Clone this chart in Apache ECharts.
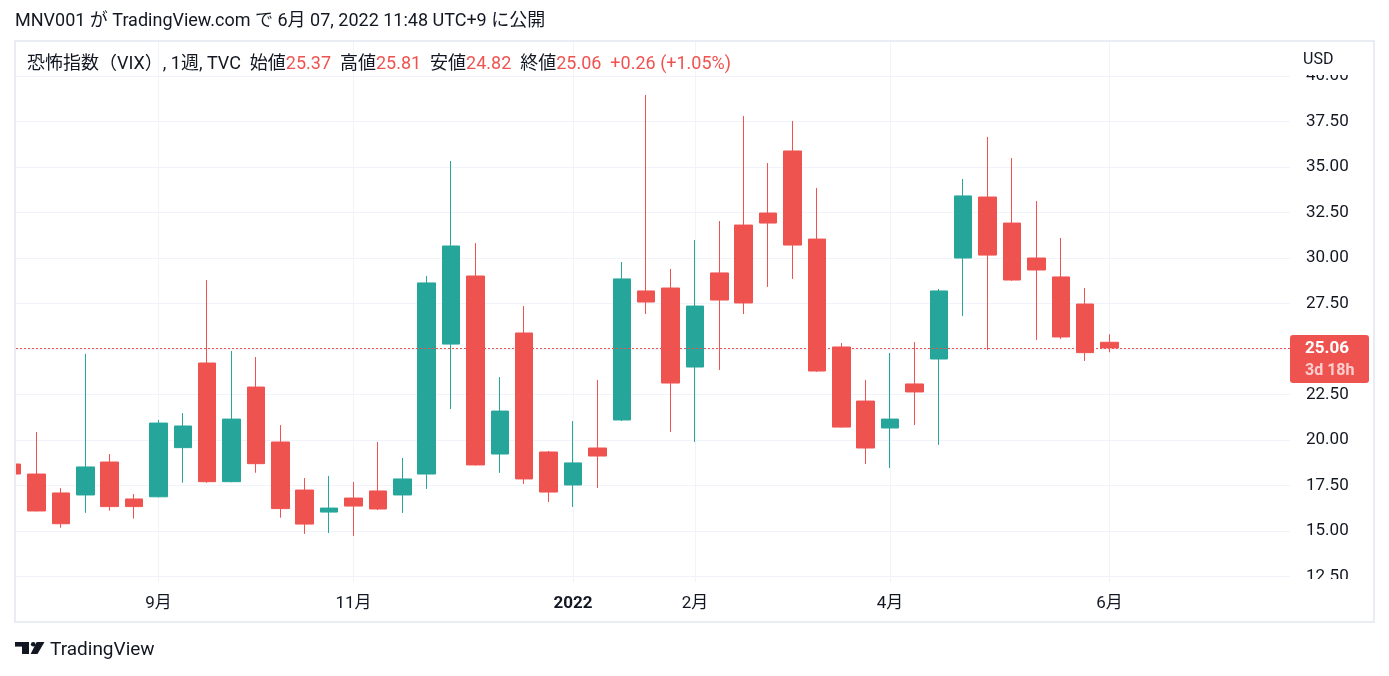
<!DOCTYPE html>
<html><head><meta charset="utf-8">
<script src="https://cdn.jsdelivr.net/npm/echarts@6.0.0/dist/echarts.min.js"></script>
<style>html,body{margin:0;padding:0;background:#fff}#c{width:1389px;height:676px}</style>
</head><body><div id="c"></div>
<script>
// Weekly candles, 恐怖指数（VIX）
const weeks = ['2021-07-26','2021-08-02','2021-08-09','2021-08-16','2021-08-23','2021-08-30','2021-09-06','2021-09-13','2021-09-20','2021-09-27','2021-10-04','2021-10-11','2021-10-18','2021-10-25','2021-11-01','2021-11-08','2021-11-15','2021-11-22','2021-11-29','2021-12-06','2021-12-13','2021-12-20','2021-12-27','2022-01-03','2022-01-10','2022-01-17','2022-01-24','2022-01-31','2022-02-07','2022-02-14','2022-02-21','2022-02-28','2022-03-07','2022-03-14','2022-03-21','2022-03-28','2022-04-04','2022-04-11','2022-04-18','2022-04-25','2022-05-02','2022-05-09','2022-05-16','2022-05-23','2022-05-30','2022-06-06'];
const opens  = [18.68,18.13,17.09,16.98,18.79,16.76,16.88,19.58,24.23,17.71,22.91,19.89,17.25,16.04,16.81,17.20,16.98,18.13,25.27,29.01,19.23,25.88,19.34,17.53,19.56,21.10,28.19,28.35,24.01,29.18,31.81,32.47,35.88,31.04,25.11,22.14,20.66,23.08,24.45,30.00,33.35,31.92,30.00,28.96,27.47,25.37];
const closes = [18.13,16.10,15.40,18.52,16.34,16.34,20.93,20.77,17.71,21.15,18.70,16.23,15.38,16.26,16.37,16.21,17.86,28.63,30.66,18.63,21.59,17.86,17.14,18.74,19.12,28.85,27.58,23.13,27.36,27.69,27.53,31.92,30.71,23.79,20.71,19.56,21.15,22.64,28.19,33.41,30.16,28.79,29.34,25.66,24.80,25.06];
const lows   = [17.95,16.08,15.18,16.00,16.12,15.68,16.85,17.65,17.65,17.68,18.20,15.73,14.84,14.89,14.73,16.15,15.99,17.31,21.70,18.60,18.19,17.58,16.59,16.32,17.36,21.05,26.92,20.44,19.89,23.85,26.92,28.41,28.85,23.75,20.68,18.68,18.46,20.82,19.73,26.81,24.95,28.75,25.49,25.55,24.34,24.82];
const highs  = [18.90,20.44,17.36,24.73,19.23,17.03,21.10,21.48,28.79,24.89,24.56,20.82,17.91,18.02,17.69,19.89,19.01,29.01,35.33,30.82,23.46,27.36,19.40,21.04,23.30,29.78,38.96,29.40,30.99,32.03,37.80,35.22,37.53,33.85,25.33,23.30,24.78,25.38,28.30,34.34,36.65,35.49,33.13,31.10,28.35,25.81];
const monthTickIdx = [6,14,23,28,36,45];
const monthTickLabels = ['9月','11月','2022','2月','4月','6月'];
const priceTicks = [12.5,15,17.5,20,22.5,25,27.5,30,32.5,35,37.5,40];

const UP = '#26a69a', DOWN = '#ef5350', TXT = '#131722', GRID = '#f0f3fa';
const FONT = 'Roboto, "Noto Sans CJK JP", sans-serif';

const candleData = weeks.map((d, i) => [i, opens[i], closes[i], lows[i], highs[i]]);
const n = weeks.length;
const lastO = opens[n-1], lastH = highs[n-1], lastL = lows[n-1], lastC = closes[n-1];
const chg = lastC - closes[n-2];
const chgPct = chg / closes[n-2] * 100;

const chart = echarts.init(document.getElementById('c'), null, {renderer: 'canvas'});

const baseGraphics = [
  {type:'text', id:'pub', x: 15, y: 21, z: 100,
   style:{text:'MNV001 が TradingView.com で 6月 07, 2022 11:48 UTC+9 に公開', font:'18px ' + FONT, fill: TXT, verticalAlign:'middle'}},
  {type:'rect', id:'leftcover', z: 98, shape:{x:0, y:40, width:15, height:584}, style:{fill:'#fff'}},
  {type:'rect', id:'frame', z: 100, shape:{x:15, y:41, width:1359, height:581},
   style:{fill:'none', stroke:'#e9ecf2', lineWidth:2}},
  {type:'text', id:'legend', x: 27, y: 64, z: 100,
   style:{
     text: '{k|恐怖指数（VIX）, 1週, TVC  始値}{v|' + lastO.toFixed(2) + '}{k|  高値}{v|' + lastH.toFixed(2) +
           '}{k|  安値}{v|' + lastL.toFixed(2) + '}{k|  終値}{v|' + lastC.toFixed(2) + '}{v|  ' +
           (chg >= 0 ? '+' : '') + chg.toFixed(2) + ' (' + (chg >= 0 ? '+' : '') + chgPct.toFixed(2) + '%)}',
     verticalAlign: 'middle',
     rich:{k:{font:'18px ' + FONT, fill: TXT, color: TXT}, v:{font:'18px ' + FONT, fill: DOWN, color: DOWN}}
   }},
  {type:'rect', id:'usdbg', z: 99, shape:{x:1291, y:42, width:82, height:33}, style:{fill:'#fff'}},
  {type:'text', id:'usd', x: 1303, y: 60, z: 100, style:{text:'USD', font:'16px ' + FONT, fill: TXT, verticalAlign:'middle'}},
  {type:'rect', id:'botbg', z: 99, shape:{x:1291, y:579, width:82, height:42}, style:{fill:'#fff'}},
  // TradingView logo
  {type:'rect', id:'lg1', z:100, shape:{x:15, y:642, width:14, height:4.6}, style:{fill: TXT}},
  {type:'rect', id:'lg2', z:100, shape:{x:22, y:642, width:7, height:12}, style:{fill: TXT}},
  {type:'circle', id:'lg3', z:100, shape:{cx:33.2, cy:644.3, r:2.3}, style:{fill: TXT}},
  {type:'polygon', id:'lg4', z:100, shape:{points:[[36.6,642],[44.5,642],[37.5,654],[30.6,654]]}, style:{fill: TXT}},
  {type:'text', id:'tvtxt', x: 50, y: 650, z: 100, style:{text:'TradingView', font:'19px ' + FONT, fill: TXT, verticalAlign:'middle'}}
];

chart.setOption({
  animation: false,
  backgroundColor: '#fff',
  grid: {left: 16, right: 99, top: 42, bottom: 94, containLabel: false},
  xAxis: {
    type: 'value', min: 0.16, max: 52.40,
    axisLine: {show: false},
    axisTick: {show: false, customValues: monthTickIdx},
    axisLabel: {
      customValues: monthTickIdx, margin: 13, color: TXT, fontSize: 17, fontFamily: FONT,
      formatter: v => {
        const k = monthTickIdx.indexOf(Math.round(v));
        if (k < 0) return '';
        return monthTickLabels[k] === '2022' ? '{b|2022}' : monthTickLabels[k];
      },
      rich: {b: {fontWeight: 'bold', fontSize: 17, color: TXT, fontFamily: FONT}}
    },
    splitLine: {show: true, lineStyle: {color: GRID, width: 1}}
  },
  yAxis: {
    type: 'value', position: 'right', min: 12.198, max: 41.868, scale: true,
    axisLine: {show: false},
    axisTick: {show: false, customValues: priceTicks},
    axisLabel: {customValues: priceTicks, margin: 16, color: TXT, fontSize: 17, fontFamily: FONT,
      formatter: v => v.toFixed(2)},
    splitLine: {show: true, lineStyle: {color: GRID, width: 1}}
  },
  series: [{
    type: 'candlestick',
    data: candleData,
    encode: {x: 0, y: [1, 2, 3, 4]},
    barWidth: 18,
    clip: true,
    itemStyle: {color: UP, color0: DOWN, borderColor: UP, borderColor0: DOWN, borderWidth: 1},
    emphasis: {disabled: true},
    markLine: {
      silent: true, symbol: ['none', 'none'], animation: false, z: 10,
      label: {show: false},
      lineStyle: {color: DOWN, type: [2, 2], width: 1},
      data: [{yAxis: lastC}]
    }
  }],
  graphic: baseGraphics
});

const py = chart.convertToPixel({yAxisIndex: 0}, lastC);
chart.setOption({
  graphic: baseGraphics.concat([
    {type:'rect', id:'pbox', z: 101, shape:{x:1290, y:py - 13, width:79, height:48, r:3}, style:{fill: DOWN}},
    {type:'text', id:'ptxt', z: 102, x: 1305, y: py + 1,
     style:{text: lastC.toFixed(2), font:'bold 17px ' + FONT, fill:'#fff', verticalAlign:'middle'}},
    {type:'text', id:'ptime', z: 102, x: 1305, y: py + 23,
     style:{text: '3d 18h', font:'bold 16px ' + FONT, fill:'rgba(255,255,255,0.72)', verticalAlign:'middle'}}
  ])
});
</script></body></html>
